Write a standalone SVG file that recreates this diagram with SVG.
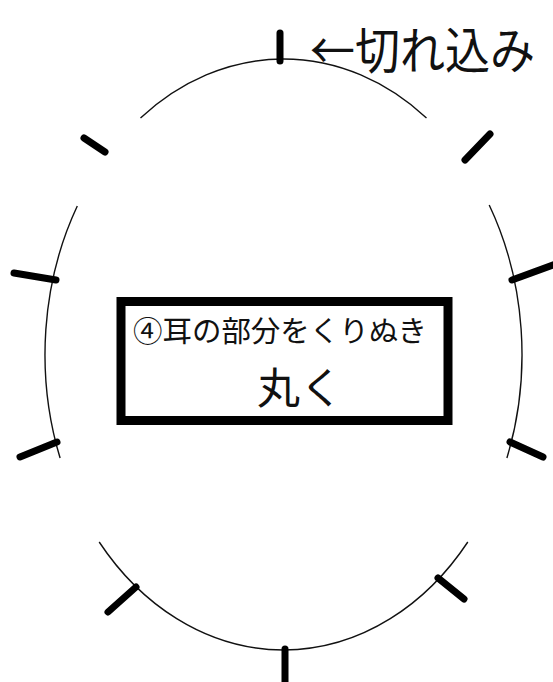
<svg xmlns="http://www.w3.org/2000/svg" width="553" height="682" viewBox="0 0 553 682">
  <style>
    .arc { fill: none; stroke: #111; stroke-width: 1.4; }
    .tick { stroke: #000; stroke-width: 7; stroke-linecap: round; }
    .txt { font-family: "Noto Sans CJK JP", "MS Gothic", sans-serif; fill: #111; }
  </style>
  <rect x="0" y="0" width="553" height="682" fill="#fff"/>
  <g id="outline">
    <path class="arc" d="M 140.5 118 A 238.5 295.5 0 0 1 426.5 118"/>
    <path class="arc" d="M 77.3 206 A 238.5 295.5 0 0 0 60.1 458"/>
    <path class="arc" d="M 489.2 205 A 238.5 295.5 0 0 1 506.9 458"/>
    <path class="arc" d="M 99.2 542 A 238.5 295.5 0 0 0 467.8 542"/>
  </g>
  <g id="notches">
    <line class="tick" x1="280" y1="33" x2="280" y2="61"/>
    <line class="tick" x1="84" y1="138" x2="105" y2="152"/>
    <line class="tick" x1="14" y1="273" x2="56" y2="280"/>
    <line class="tick" x1="20" y1="457" x2="57" y2="442"/>
    <line class="tick" x1="108" y1="612" x2="136" y2="587"/>
    <line class="tick" x1="285" y1="649" x2="285" y2="685"/>
    <line class="tick" x1="438" y1="578" x2="464" y2="599"/>
    <line class="tick" x1="510" y1="442" x2="543" y2="457"/>
    <line class="tick" x1="512" y1="280" x2="556" y2="264"/>
    <line class="tick" x1="465" y1="160" x2="490" y2="134"/>
  </g>
  <g id="label-notch">
    <text class="txt" transform="translate(310 69) scale(1 1.1)" x="0" y="0" font-size="45">←切れ込み</text>
  </g>
  <g id="instruction-box">
    <rect x="121" y="301.5" width="327" height="119" fill="#fff" stroke="#000" stroke-width="9"/>
    <text class="txt" x="133" y="342" font-size="29" textLength="294" lengthAdjust="spacingAndGlyphs">④耳の部分をくりぬき</text>
    <text class="txt" x="257" y="404" font-size="43" textLength="86" lengthAdjust="spacingAndGlyphs">丸く</text>
  </g>
</svg>
